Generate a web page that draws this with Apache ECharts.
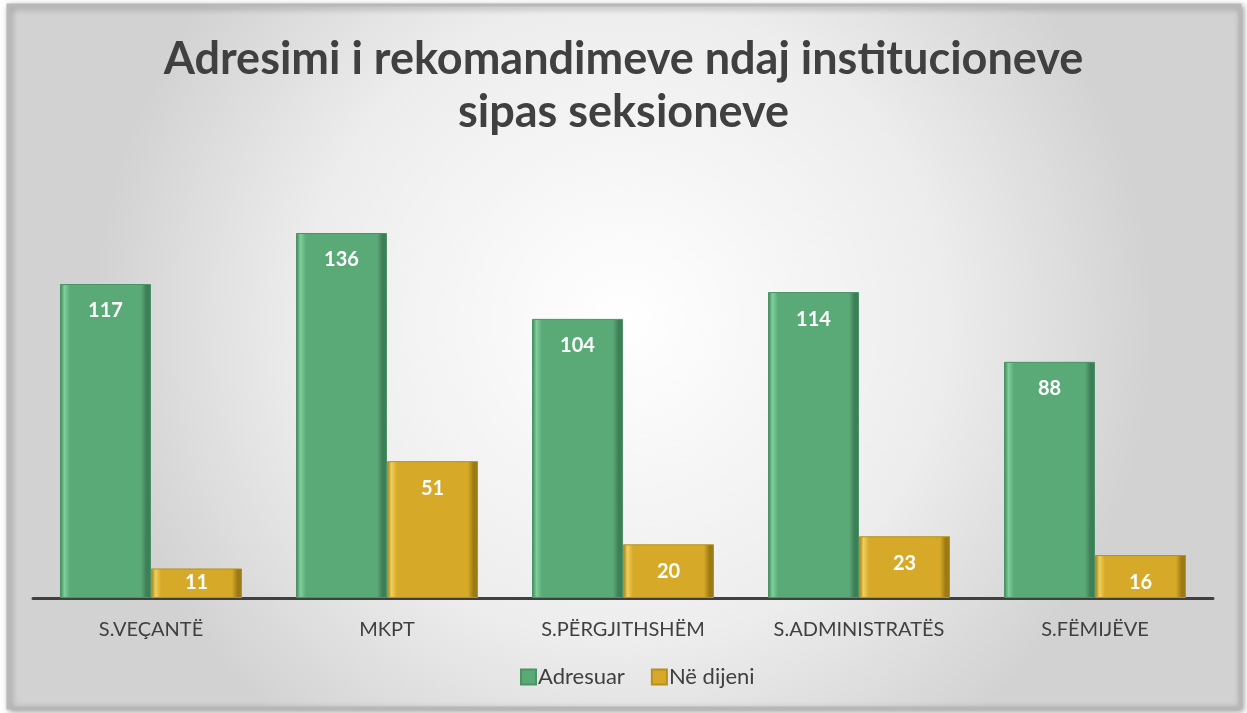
<!DOCTYPE html>
<html>
<head>
<meta charset="utf-8">
<script src="https://cdn.jsdelivr.net/npm/echarts@6/dist/echarts.min.js"></script>
<style>
  html, body { margin: 0; padding: 0; background: #fff; }
  #chart { width: 1247px; height: 713px; }
</style>
</head>
<body>
<div id="chart"></div>
<script>
// data
const categories = ['S.VEÇANTË', 'MKPT', 'S.PËRGJITHSHËM', 'S.ADMINISTRATËS', 'S.FËMIJËVE']
const adresuar = [117, 136, 104, 114, 88]
const neDijeni = [11, 51, 20, 23, 16]
const titleText = 'Adresimi i rekomandimeve ndaj institucioneve\nsipas seksioneve'

const chart = echarts.init(document.getElementById('chart'))

// bevel-like horizontal gradient for bars
const bevel = (light, mid, dark) =>
  new echarts.graphic.LinearGradient(0, 0, 1, 0, [
    { offset: 0, color: dark },
    { offset: 0.05, color: light },
    { offset: 0.11, color: mid },
    { offset: 0.89, color: mid },
    { offset: 0.95, color: dark },
    { offset: 1, color: dark },
  ])

const labelStyle = {
  show: true,
  position: 'insideTop',
  distance: 17,
  color: '#fff',
  fontSize: 20,
  fontWeight: 'bold',
  fontFamily: 'Lato',
}

// short bars keep their label closer to the top edge
const withLabels = (values) =>
  values.map((v) => (v < 15 ? { value: v, label: { distance: 4 } } : v))

const options = {
  backgroundColor: '#fff',
  textStyle: { fontFamily: 'Lato' },
  graphic: [
    {
      type: 'rect',
      z: -10,
      shape: { x: 8, y: 5, width: 1232, height: 703 },
      style: {
        fill: new echarts.graphic.RadialGradient(0.5, 0.45, 0.75, [
          { offset: 0, color: '#ffffff' },
          { offset: 0.6, color: '#ededed' },
          { offset: 1, color: '#d2d2d2' },
        ]),
        stroke: '#b8b8b8',
        lineWidth: 3,
        shadowColor: 'rgba(0,0,0,0.35)',
        shadowBlur: 6,
        shadowOffsetX: 2,
        shadowOffsetY: 2,
      },
    },
  ],
  title: {
    text: titleText,
    left: 'center',
    top: 28,
    textStyle: {
      color: '#404040',
      fontSize: 45,
      fontWeight: 'bold',
      fontFamily: 'Lato',
      lineHeight: 53,
    },
  },
  legend: {
    bottom: 20,
    left: 515,
    itemWidth: 15,
    itemHeight: 15,
    itemGap: 26,
    icon: 'rect',
    textStyle: { color: '#404040', fontSize: 22, fontFamily: 'Lato', padding: [0, 0, 0, -3] },
    data: ['Adresuar', 'Në dijeni'],
  },
  grid: {
    top: 168.6,
    left: 33,
    right: 34,
    bottom: 115,
  },
  xAxis: {
    type: 'category',
    data: categories,
    axisLine: { lineStyle: { color: '#404040', width: 3 } },
    axisTick: { show: false },
    axisLabel: { color: '#404040', fontSize: 20, margin: 22, fontFamily: 'Lato' },
  },
  yAxis: {
    type: 'value',
    min: 0,
    max: 160,
    show: false,
    splitLine: { show: false },
  },
  series: [
    {
      name: 'Adresuar',
      type: 'bar',
      data: withLabels(adresuar),
      barWidth: 91,
      barGap: '0%',
      itemStyle: {
        color: bevel('#7fcf9c', '#5aaa78', '#3f7f57'),
        borderColor: '#4a9366',
        borderWidth: 1,
      },
      label: labelStyle,
    },
    {
      name: 'Në dijeni',
      type: 'bar',
      data: withLabels(neDijeni),
      barWidth: 91,
      barGap: '0%',
      itemStyle: {
        color: bevel('#f0cf5a', '#d6a928', '#9c7a14'),
        borderColor: '#b8901c',
        borderWidth: 1,
      },
      label: labelStyle,
    },
  ],
}

chart.setOption(options)
</script>
</body>
</html>
